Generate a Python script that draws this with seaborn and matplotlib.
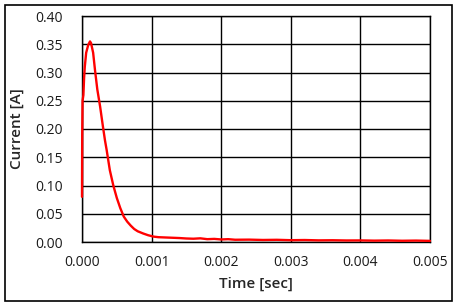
import matplotlib
matplotlib.use("Agg")
import matplotlib.pyplot as plt
import seaborn as sns
import pandas as pd
from matplotlib.patches import Rectangle

time_sec = [0.0, 0.000003, 0.000008, 0.00002, 0.00003, 0.00004, 0.00006, 0.00009,
            0.000115, 0.00013, 0.00016, 0.000187, 0.00022, 0.00026, 0.0003, 0.00033,
            0.000354, 0.0004, 0.00045, 0.0005, 0.00055, 0.0006, 0.00065, 0.0007,
            0.00075, 0.0008, 0.00088, 0.00095, 0.00103, 0.0011, 0.0012, 0.0013,
            0.0014, 0.0015, 0.0016, 0.0017, 0.0018, 0.0019, 0.002, 0.0021, 0.0022,
            0.0024, 0.0026, 0.0028, 0.003, 0.0032, 0.0034, 0.0036, 0.0038, 0.004,
            0.0042, 0.0044, 0.0046, 0.0048, 0.005]
current_a = [0.08, 0.19, 0.25, 0.26, 0.29, 0.31, 0.335, 0.349,
             0.355, 0.352, 0.335, 0.304, 0.27, 0.24, 0.205, 0.18,
             0.163, 0.127, 0.100, 0.078, 0.060, 0.045, 0.036, 0.029,
             0.023, 0.019, 0.015, 0.012, 0.0095, 0.0085, 0.008, 0.0075,
             0.007, 0.0062, 0.0058, 0.0065, 0.005, 0.0055, 0.0045, 0.005, 0.004,
             0.0042, 0.0036, 0.0039, 0.0032, 0.0035, 0.0029, 0.0031, 0.0027, 0.0028,
             0.0024, 0.0027, 0.0022, 0.0025, 0.002]

x_ticks = [0.000, 0.001, 0.002, 0.003, 0.004, 0.005]
y_ticks = [0.00, 0.05, 0.10, 0.15, 0.20, 0.25, 0.30, 0.35, 0.40]

sns.set_style("white")
plt.rcParams['font.family'] = ['Open Sans', 'DejaVu Sans']

df = pd.DataFrame({"t": time_sec, "i": current_a})

fig = plt.figure(figsize=(4.58, 3.07), dpi=100)
ax = fig.add_axes([82/458, 1-242/307, (430-82)/458, (242-16)/307])
sns.lineplot(data=df, x="t", y="i", ax=ax, color="#ff0000", linewidth=1.7)
for ln in ax.lines:
    ln.set_zorder(3)
    ln.set_clip_on(False)

ax.set_xlim(0, 0.005)
ax.set_ylim(0, 0.4)
ax.set_xticks(x_ticks)
ax.set_xticklabels([f"{v:.3f}" for v in x_ticks])
ax.set_yticks(y_ticks)
ax.set_yticklabels([f"{v:.2f}" for v in y_ticks])
ax.grid(True, color="black", linewidth=1.0)
ax.set_axisbelow(True)
for s in ax.spines.values():
    s.set_visible(True)
    s.set_color("black")
    s.set_linewidth(1.0)
ax.tick_params(axis="both", length=0, labelsize=10, colors="#1a1a1a")
ax.tick_params(axis="y", pad=14)
ax.tick_params(axis="x", pad=9)
ax.set_xlabel("Time [sec]", fontsize=11, fontweight="semibold", labelpad=5)
ax.set_ylabel("Current [A]", fontsize=11, fontweight="semibold", labelpad=8)

fig.patches.append(Rectangle((5/458, 1-301/307), 447/458, 296/307, transform=fig.transFigure,
                             fill=False, edgecolor="black", linewidth=1.2))

fig.savefig("out.png", dpi=100, facecolor="white")
